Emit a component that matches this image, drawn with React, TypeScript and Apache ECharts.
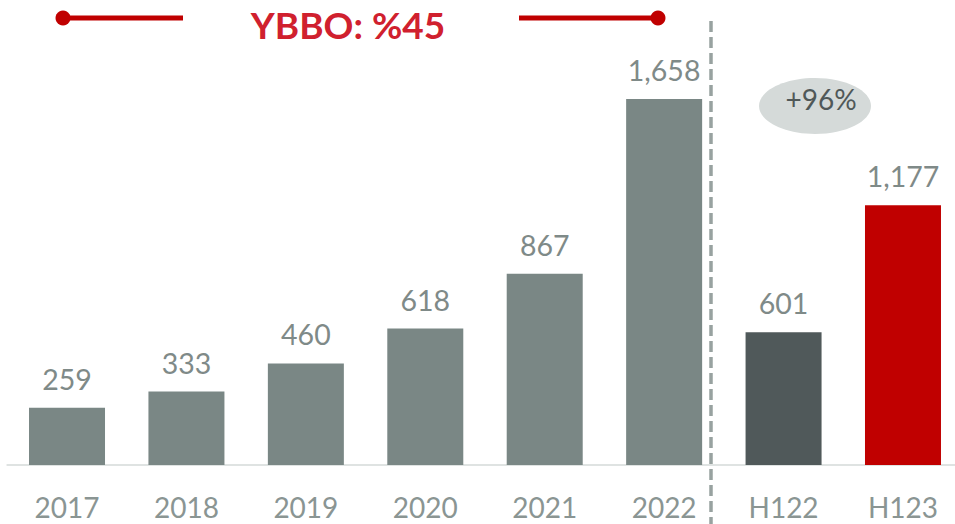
import React, { useEffect, useRef } from "react";
import * as echarts from "echarts";

const categories = ["2017", "2018", "2019", "2020", "2021", "2022", "H122", "H123"];
const values = [259, 333, 460, 618, 867, 1658, 601, 1177];
const barColors = ["#7a8785", "#7a8785", "#7a8785", "#7a8785", "#7a8785", "#7a8785", "#50595a", "#c00000"];
const titleText = "YBBO: %45";
const growthText = "+96%";

export default function App() {
  const ref = useRef<HTMLDivElement>(null);
  useEffect(() => {
    if (!ref.current) return;
    const chart = echarts.init(ref.current, null, { renderer: "svg" });
    const font = "Lato, 'Open Sans', sans-serif";
    chart.setOption({
      animation: false,
      grid: { left: 7.3, width: 955.4, top: 23.6, bottom: 59 + 0, containLabel: false },
      xAxis: {
        type: "category",
        data: categories,
        axisLine: { lineStyle: { color: "#dfe3e2", width: 2 } },
        axisTick: { show: false },
        axisLabel: { color: "#8a9593", fontSize: 28, fontFamily: font, margin: 28, lineHeight: 28 },
      },
      yAxis: { type: "value", min: 0, max: 2000, show: false, splitLine: { show: false } },
      series: [
        {
          type: "bar",
          barWidth: 76,
          data: values.map((v, i) => ({ value: v, itemStyle: { color: barColors[i] } })),
          label: {
            show: true,
            position: "top",
            distance: 15,
            color: "#7f8a88",
            fontSize: 28.5,
            lineHeight: 28,
            fontFamily: font,
            formatter: (p: any) => Number(p.value).toLocaleString("en-US"),
          },
        },
      ],
      graphic: [
        { type: "line", shape: { x1: 63, y1: 18, x2: 183, y2: 18 }, style: { stroke: "#c00000", lineWidth: 5 } },
        { type: "circle", shape: { cx: 63, cy: 18, r: 7.5 }, style: { fill: "#c00000" } },
        { type: "line", shape: { x1: 519, y1: 18, x2: 658, y2: 18 }, style: { stroke: "#c00000", lineWidth: 5 } },
        { type: "circle", shape: { cx: 658, cy: 18, r: 7.5 }, style: { fill: "#c00000" } },
        {
          type: "text",
          x: 348,
          y: 24,
          style: {
            text: titleText,
            fill: "#d0202e",
            font: "bold 37px Lato, 'Open Sans', sans-serif",
            align: "center",
            verticalAlign: "middle",
          },
        },
        {
          type: "line",
          shape: { x1: 711, y1: 21, x2: 711, y2: 524 },
          style: { stroke: "#98a2a0", lineWidth: 3.5, lineDash: [11, 5] },
        },
        { type: "ellipse", shape: { cx: 815, cy: 106, rx: 56, ry: 28 }, style: { fill: "#d5dad9" } },
        {
          type: "text",
          x: 821,
          y: 99,
          style: {
            text: growthText,
            fill: "#505858",
            font: "28px Lato, 'Open Sans', sans-serif",
            align: "center",
            verticalAlign: "middle",
          },
        },
      ],
    });
    return () => chart.dispose();
  }, []);
  return (
    <div style={{ position: "absolute", left: 0, top: 0, width: 955, height: 524, overflow: "hidden" }}>
      <div ref={ref} style={{ width: 975, height: 524 }} />
    </div>
  );
}
